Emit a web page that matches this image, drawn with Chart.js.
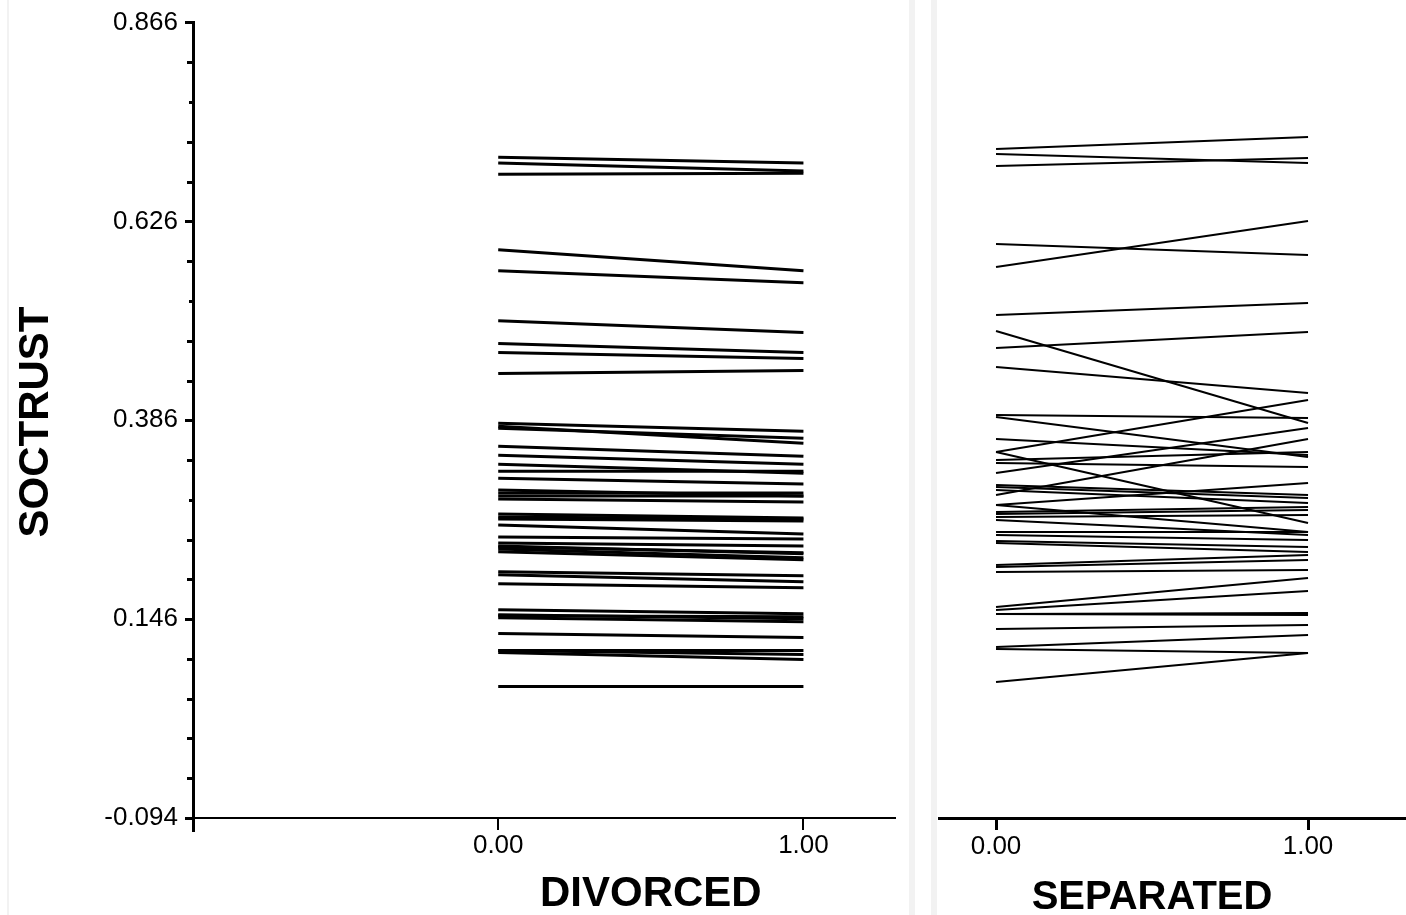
<!DOCTYPE html>
<html>
<head>
<meta charset="utf-8">
<title>SOCTRUST by DIVORCED / SEPARATED</title>
<script src="https://cdn.jsdelivr.net/npm/chart.js@4.4.1/dist/chart.umd.min.js"></script>
<style>
	body { margin:0; background:#fff; width:1406px; height:915px; overflow:hidden; position:relative; }
	.rule { position:absolute; top:0; height:915px; background:#f2f2f2; }
	#left { position:absolute; left:0; top:0; }
	#right { position:absolute; left:938px; top:0; }
</style>
</head>
<body>
<div class="rule" style="left:7px;width:2px"></div>
<div class="rule" style="left:909px;width:6px"></div>
<div class="rule" style="left:931px;width:6px"></div>
<canvas id="left" width="905" height="915"></canvas>
<canvas id="right" width="468" height="915"></canvas>
<script>
var yTitle = "SOCTRUST";
var leftTitle = "DIVORCED";
var rightTitle = "SEPARATED";

var yTicks = [0.866, 0.626, 0.386, 0.146, -0.094];
var xTicks = [0, 1];

// SOCTRUST at x=0 and x=1, one entry per line
var divorced0 = [0.7036, 0.6964, 0.6831, 0.5917, 0.5665, 0.5063, 0.4786, 0.4678, 0.4425, 0.3824, 0.3788, 0.3547, 0.3439, 0.3331, 0.3246,
	0.3162, 0.3018, 0.2946, 0.2910, 0.2729, 0.2693, 0.2597, 0.2453, 0.2380, 0.2344, 0.2308, 0.2272, 0.2031, 0.1995, 0.1887,
	0.1574, 0.1502, 0.1478, 0.1286, 0.1081, 0.1057, 0.0648, 0.2982, 0.2669, 0.3764, 0.1514, 0.2332, 0.1081];
var divorced1 = [0.6964, 0.6868, 0.6843, 0.5665, 0.5520, 0.4919, 0.4678, 0.4606, 0.4462, 0.3728, 0.3583, 0.3427, 0.3331, 0.3222, 0.3246,
	0.3090, 0.2946, 0.2946, 0.2874, 0.2681, 0.2669, 0.2489, 0.2428, 0.2344, 0.2248, 0.2200, 0.2176, 0.1983, 0.1911, 0.1839,
	0.1526, 0.1490, 0.1430, 0.1238, 0.1033, 0.0973, 0.0648, 0.2982, 0.2645, 0.3643, 0.1466, 0.2260, 0.1081];

var separated0 = [0.7108, 0.7048, 0.6904, 0.5965, 0.5689, 0.5111, 0.4919, 0.4714, 0.4486, 0.3463, 0.3908, 0.3884, 0.3619, 0.3463,
	0.3367, 0.3331, 0.3210, 0.2946, 0.2825, 0.3066, 0.3042, 0.3006, 0.2741, 0.2717, 0.2681, 0.2645, 0.2825, 0.2501,
	0.2465, 0.2392, 0.2368, 0.2104, 0.2080, 0.2019, 0.1598, 0.1562, 0.1514, 0.1514, 0.1334, 0.1117, 0.1093, 0.0696];
var separated1 = [0.7252, 0.6940, 0.7000, 0.5833, 0.6242, 0.5256, 0.3812, 0.4907, 0.4173, 0.4089, 0.3872, 0.3403, 0.3427, 0.2609,
	0.3463, 0.3283, 0.3752, 0.3619, 0.3090, 0.2946, 0.2910, 0.2850, 0.2801, 0.2765, 0.2705, 0.2465, 0.2501, 0.2501,
	0.2404, 0.2320, 0.2260, 0.2224, 0.2164, 0.2043, 0.1947, 0.1791, 0.1526, 0.1502, 0.1382, 0.1262, 0.1045, 0.1045];

var fontFamily = '"Liberation Sans", Arial, sans-serif';

function make_lines(at0, at1, width) {
	var sets = [];
	for (var i = 0; i < at0.length; i++) {
		sets.push({
			data: [{x: 0, y: at0[i]}, {x: 1, y: at1[i]}],
			borderColor: '#000',
			borderWidth: width,
			pointRadius: 0,
			fill: false,
			tension: 0
		});
	}
	return sets;
}

function fixed_ticks(values) {
	return function (scale) {
		scale.ticks = values.map(function (v) { return {value: v}; });
	};
}

var leftExtras = {
	id: 'leftExtras',
	afterDraw: function (chart) {
		var ctx = chart.ctx;
		var ys = chart.scales.y;
		var xs = chart.scales.x;
		var axisLeft = chart.chartArea.left - 1;
		var step = (yTicks[0] - yTicks[1]) / 5;
		ctx.save();
		ctx.fillStyle = '#000';
		// minor ticks between the labelled ones
		for (var i = 0; i < yTicks.length - 1; i++) {
			for (var k = 1; k < 5; k++) {
				var py = Math.round(ys.getPixelForValue(yTicks[i] - k * step));
				var len = (k == 2 && i < 3) ? 3 : 5;
				ctx.fillRect(axisLeft - len, py - 1, len + 1, 3);
			}
		}
		// y axis runs a little past the x axis
		ctx.fillRect(axisLeft, chart.chartArea.bottom, 3, 14);

		ctx.font = 'bold 42px ' + fontFamily;
		ctx.textAlign = 'center';
		ctx.textBaseline = 'middle';
		ctx.fillText(leftTitle, xs.getPixelForValue(0.5), chart.chartArea.bottom + 76);
		ctx.translate(36, 422);
		ctx.rotate(-Math.PI / 2);
		ctx.fillText(yTitle, 0, 0);
		ctx.restore();
	}
};

var rightExtras = {
	id: 'rightExtras',
	afterDraw: function (chart) {
		var ctx = chart.ctx;
		ctx.save();
		ctx.fillStyle = '#000';
		ctx.font = 'bold 40px ' + fontFamily;
		ctx.textAlign = 'center';
		ctx.textBaseline = 'middle';
		ctx.fillText(rightTitle, chart.scales.x.getPixelForValue(0.5), chart.chartArea.bottom + 80);
		ctx.restore();
	}
};

new Chart(document.getElementById('left'), {
	type: 'line',
	data: { datasets: make_lines(divorced0, divorced1, 3) },
	options: {
		responsive: false,
		animation: false,
		events: [],
		layout: { padding: { top: 20, right: 10, left: 0, bottom: 0 } },
		plugins: { legend: { display: false }, tooltip: { enabled: false } },
		scales: {
			x: {
				type: 'linear', min: -1, max: 1.3,
				afterBuildTicks: fixed_ticks(xTicks),
				afterFit: function (s) { s.height = 97; },
				grid: { drawOnChartArea: false, tickLength: 12, tickWidth: 2, tickColor: '#000', lineWidth: 2, color: '#000' },
				border: { color: '#000', width: 2 },
				ticks: {
					color: '#000', padding: 0, maxRotation: 0,
					font: { family: fontFamily, size: 26 },
					callback: function (v) { return v.toFixed(2); }
				}
			},
			y: {
				type: 'linear', min: -0.094, max: 0.866,
				afterBuildTicks: fixed_ticks(yTicks),
				afterFit: function (s) { s.width = 193; },
				grid: { drawOnChartArea: false, tickLength: 8, tickWidth: 3, tickColor: '#000', lineWidth: 3, color: '#000' },
				border: { color: '#000', width: 3 },
				ticks: {
					color: '#000', padding: 7,
					font: { family: fontFamily, size: 26 },
					callback: function (v) { return v.toFixed(3); }
				}
			}
		}
	},
	plugins: [leftExtras]
});

new Chart(document.getElementById('right'), {
	type: 'line',
	data: { datasets: make_lines(separated0, separated1, 2) },
	options: {
		responsive: false,
		animation: false,
		events: [],
		layout: { padding: { top: 20, right: 0, left: 0, bottom: 0 } },
		plugins: { legend: { display: false }, tooltip: { enabled: false } },
		scales: {
			x: {
				type: 'linear', min: -0.186, max: 1.314,
				afterBuildTicks: fixed_ticks(xTicks),
				afterFit: function (s) { s.height = 97; },
				grid: { drawOnChartArea: false, tickLength: 12, tickWidth: 3, tickColor: '#000', lineWidth: 3, color: '#000' },
				border: { color: '#000', width: 3 },
				ticks: {
					color: '#000', padding: 1, maxRotation: 0,
					font: { family: fontFamily, size: 26 },
					callback: function (v) { return v.toFixed(2); }
				}
			},
			y: {
				type: 'linear', min: -0.094, max: 0.866, display: false
			}
		}
	},
	plugins: [rightExtras]
});
</script>
</body>
</html>
